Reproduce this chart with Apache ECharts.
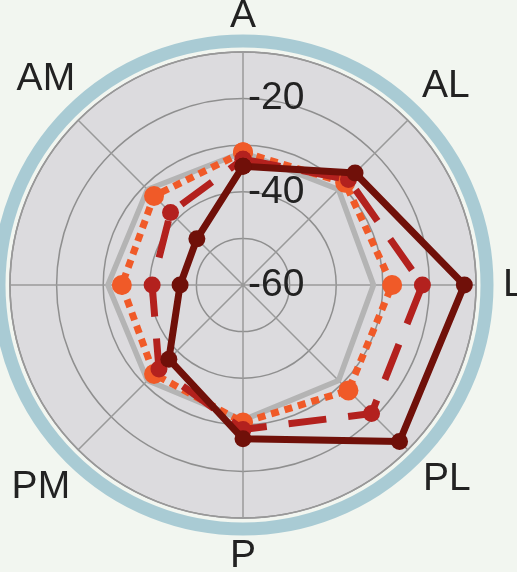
<!DOCTYPE html>
<html>
<head>
<meta charset="utf-8">
<script src="https://cdn.jsdelivr.net/npm/echarts@6/dist/echarts.min.js"></script>
<style>
html,body{margin:0;padding:0;background:#f2f6f0;}
#chart{width:517px;height:572px;}
</style>
</head>
<body>
<div id="chart"></div>
<script>
var categories = ['A','AL','L','PL','P','PM','M','AM'];
var radialTicks = [-60,-50,-40,-30,-20,-10];
var greyValues   = [-31.5,-31,-32,-31,-31,-31,-31,-31];
var orangeValues = [-31.5,-29,-28,-28,-30.5,-33,-34,-33];
var redValues    = [-33,-28,-21.5,-21,-29,-34.5,-40.5,-38];
var darkValues   = [-34.5,-26,-12.5,-12.5,-27,-37.5,-46.5,-46];

function toPolar(vals){
  var out = vals.map(function(v,i){ return [v, i*360/categories.length]; });
  out.push([vals[0], 360]);
  return out;
}

var font = 'Liberation Sans, Arial, sans-serif';
var FS = 39;
// label nudges (style only), [top, right, bottom, left]
var labelPad = {
  A:[0,0,13,0], AL:[0,0,12,12], L:[0,0,0,24], PL:[8,0,0,13],
  P:[16,0,0,0], PM:[16,6,0,0], M:[0,24,0,0], AM:[0,1,19,0]
};
var rich = {};
categories.forEach(function(c){
  rich[c] = {fontSize:FS, fontFamily:font, color:'#222', padding:labelPad[c]};
});

var chart = echarts.init(document.getElementById('chart'));
chart.setOption({
  backgroundColor:'#f2f6f0',
  animation:false,
  polar:[
    {center:[243,285], radius:233},
    {center:[243,285], radius:244},
    {center:[243,285], radius:234}
  ],
  angleAxis:[
    {polarIndex:0, type:'value', min:0, max:360, interval:45, startAngle:90, clockwise:true, z:2,
     axisLine:{show:true, lineStyle:{color:'#999', width:1.5}},
     axisTick:{show:false}, axisLabel:{show:false},
     splitLine:{show:true, lineStyle:{color:'#9a9a9a', width:1.5}}},
    {polarIndex:1, type:'value', min:0, max:360, interval:45, startAngle:90, clockwise:true,
     axisLine:{show:true, lineStyle:{color:'#a9cbd4', width:13}},
     axisTick:{show:false}, splitLine:{show:false},
     axisLabel:{show:true, margin:-8, fontSize:FS, color:'#222', fontFamily:font, rich:rich,
       formatter:function(v){
         if (v >= 360) return '';
         var c = categories[Math.round(v/45)];
         return '{' + c + '|' + c + '}';
       }}},
    {polarIndex:2, type:'value', min:0, max:360, show:false}
  ],
  radiusAxis:[
    {polarIndex:0, type:'value', min:radialTicks[0], max:radialTicks[radialTicks.length-1], interval:10, z:2,
     axisLine:{show:false}, axisTick:{show:false},
     splitLine:{show:true, lineStyle:{color:'#8f8f8f', width:1.5}},
     splitArea:{show:false},
     axisLabel:{show:true, fontSize:FS, color:'#222', fontFamily:font, margin:-5, align:'left',
       formatter:function(v){ return (v % 20 === 0) ? String(v) : ''; }}},
    {polarIndex:1, type:'value', min:0, max:1, show:false},
    {polarIndex:2, type:'value', min:0, max:1, interval:1, z:0,
     axisLine:{show:false}, axisTick:{show:false}, axisLabel:{show:false}, splitLine:{show:false},
     splitArea:{show:true, areaStyle:{color:['#dcdbde']}}}
  ],
  series:[
    {type:'line', coordinateSystem:'polar', polarIndex:0, data:toPolar(greyValues),
     symbol:'none', lineStyle:{color:'#b4b4b4', width:5.5}, z:10},
    {type:'line', coordinateSystem:'polar', polarIndex:0, data:toPolar(orangeValues),
     symbol:'circle', symbolSize:20, itemStyle:{color:'#f05a28'},
     lineStyle:{color:'#f05a28', width:7, type:[8,6]}, z:11},
    {type:'line', coordinateSystem:'polar', polarIndex:0, data:toPolar(redValues),
     symbol:'circle', symbolSize:17, itemStyle:{color:'#b3211e'},
     lineStyle:{color:'#b3211e', width:7, type:[38,22]}, z:12},
    {type:'line', coordinateSystem:'polar', polarIndex:0, data:toPolar(darkValues),
     symbol:'circle', symbolSize:17, itemStyle:{color:'#701009'},
     lineStyle:{color:'#701009', width:7}, z:13}
  ]
});
</script>
</body>
</html>
